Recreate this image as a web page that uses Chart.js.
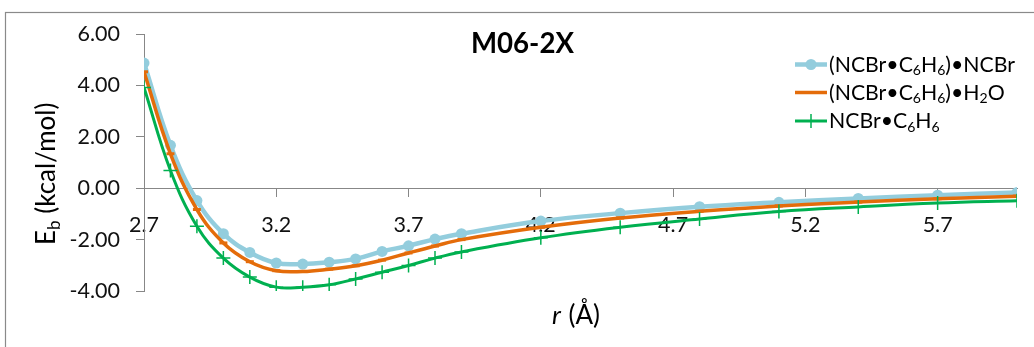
<!DOCTYPE html>
<html><head><meta charset="utf-8">
<script src="https://cdn.jsdelivr.net/npm/chart.js@4/dist/chart.umd.min.js"></script>
<style>html,body{margin:0;padding:0;background:#fff;overflow:hidden}canvas{display:block}</style>
</head><body>
<canvas id="c" width="1034" height="347"></canvas>
<script>
// ---- data ----
const rValues = [2.7, 2.8, 2.9, 3.0, 3.1, 3.2, 3.3, 3.4, 3.5, 3.6, 3.7, 3.8, 3.9, 4.2, 4.5, 4.8, 5.1, 5.4, 5.7, 6.0];
const ebDimerNCBr = [4.87, 1.67, -0.48, -1.77, -2.50, -2.91, -2.95, -2.88, -2.75, -2.46, -2.24, -1.98, -1.77, -1.28, -0.97, -0.72, -0.55, -0.40, -0.27, -0.17];
const ebDimerH2O  = [4.53, 1.34, -0.83, -2.13, -2.86, -3.21, -3.24, -3.15, -3.02, -2.80, -2.52, -2.25, -2.00, -1.52, -1.16, -0.90, -0.69, -0.54, -0.41, -0.31];
const ebMonomer   = [3.92, 0.69, -1.48, -2.72, -3.46, -3.85, -3.85, -3.76, -3.53, -3.27, -3.01, -2.72, -2.48, -1.93, -1.52, -1.20, -0.91, -0.73, -0.58, -0.49];
const xTickValues = [2.7, 3.2, 3.7, 4.2, 4.7, 5.2, 5.7];
const yTickValues = [-4, -2, 0, 2, 4, 6];
const seriesLabels = ['(NCBr•C₆H₆)•NCBr', '(NCBr•C₆H₆)•H₂O', 'NCBr•C₆H₆'];
const chartTitle = 'M06-2X';
const xTitleItalic = 'r';
const xTitleRest = ' (Å)';
const yTitleMain = 'E';
const yTitleSub = 'b';
const yTitleRest = ' (kcal/mol)';

// ---- styling ----
const FONT = 'Lato, "Open Sans", "DejaVu Sans", sans-serif';
const AXIS = '#878787';
const COLORS = ['#93CDDD', '#E46C0A', '#00B050'];

const pts = ys => rValues.map((x, i) => ({x: x, y: ys[i]}));

const SUBS = '₀₁₂₃₄₅₆₇₈₉';
function segs(text) {
  const out = [];
  for (const ch of text) {
    const k = SUBS.indexOf(ch);
    const sub = k >= 0;
    const c = sub ? String(k) : ch;
    if (out.length && out[out.length - 1].sub === sub) out[out.length - 1].t += c;
    else out.push({t: c, sub: sub});
  }
  return out;
}
function richWidth(ctx, text, size, weight) {
  let w = 0;
  for (const s of segs(text)) {
    ctx.font = (weight || '') + ' ' + (s.sub ? size * 0.66 : size) + 'px ' + FONT;
    w += ctx.measureText(s.t).width;
  }
  return w;
}
function drawRich(ctx, text, x, y, size) {
  for (const s of segs(text)) {
    const fs = s.sub ? size * 0.66 : size;
    ctx.font = fs + 'px ' + FONT;
    ctx.fillText(s.t, x, y + (s.sub ? size * 0.16 : 0));
    x += ctx.measureText(s.t).width;
  }
}
function drawMarker(ctx, ds, x, y) {
  ctx.save();
  ctx.strokeStyle = ds.borderColor;
  ctx.fillStyle = ds.backgroundColor;
  ctx.lineWidth = ds.pointBorderWidth || 1;
  const r = ds.pointRadius;
  ctx.beginPath();
  if (ds.pointStyle === 'circle') { ctx.arc(x, y, r, 0, Math.PI * 2); ctx.fill(); }
  else if (ds.pointStyle === 'cross') { ctx.moveTo(x - r, y); ctx.lineTo(x + r, y); ctx.moveTo(x, y - r); ctx.lineTo(x, y + r); ctx.stroke(); }
  else if (ds.pointStyle === 'line') { ctx.moveTo(x - r, y); ctx.lineTo(x + r, y); ctx.stroke(); }
  ctx.restore();
}

const decor = {
  id: 'decor',
  afterDraw(chart) {
    const ctx = chart.ctx;
    ctx.save();
    // outer frame
    ctx.strokeStyle = '#8a8a8a';
    ctx.lineWidth = 1.2;
    ctx.strokeRect(5.5, 12.5, 1200, 500);
    ctx.fillStyle = '#000';
    ctx.textBaseline = 'alphabetic';
    // title
    let ts = 27;
    ctx.font = 'bold ' + ts + 'px ' + FONT;
    ts = ts * 103 / ctx.measureText(chartTitle).width;
    ctx.font = 'bold ' + ts + 'px ' + FONT;
    ctx.textAlign = 'left';
    ctx.fillText(chartTitle, 471, 53);
    // x title
    const xs = 26;
    ctx.font = 'italic ' + xs + 'px ' + FONT;
    const wr = ctx.measureText(xTitleItalic).width;
    ctx.fillText(xTitleItalic, 552, 324);
    ctx.font = xs + 'px ' + FONT;
    ctx.fillText(xTitleRest, 552 + wr + 1, 324);
    // y title (rotated)
    const ys = 26;
    ctx.save();
    ctx.translate(55, 245);
    ctx.rotate(-Math.PI / 2);
    ctx.font = ys + 'px ' + FONT;
    ctx.fillText(yTitleMain, 0, 0);
    let xx = ctx.measureText(yTitleMain).width;
    ctx.font = (ys * 0.66) + 'px ' + FONT;
    ctx.fillText(yTitleSub, xx, ys * 0.18);
    xx += ctx.measureText(yTitleSub).width;
    ctx.font = ys + 'px ' + FONT;
    ctx.fillText(yTitleRest, xx, 0);
    ctx.restore();
    // legend
    let ls = 20;
    ls = ls * 186 / richWidth(ctx, seriesLabels[0], ls);
    const rows = [64.5, 92.5, 121];
    chart.data.datasets.forEach((ds, i) => {
      const y = rows[i];
      ctx.strokeStyle = ds.borderColor;
      ctx.lineWidth = ds.borderWidth;
      ctx.beginPath();
      ctx.moveTo(795, y);
      ctx.lineTo(827, y);
      ctx.stroke();
      drawMarker(ctx, ds, 811, y);
      ctx.fillStyle = '#000';
      drawRich(ctx, ds.label, 829, y + 7.2, ls);
    });
    ctx.restore();
  }
};

new Chart(document.getElementById('c').getContext('2d'), {
  type: 'line',
  data: {
    datasets: [
      {label: seriesLabels[0], data: pts(ebDimerNCBr), borderColor: COLORS[0], backgroundColor: COLORS[0],
       borderWidth: 4.5, pointStyle: 'circle', pointRadius: 5.5, pointBorderWidth: 0, tension: 0.4, order: 3},
      {label: seriesLabels[1], data: pts(ebDimerH2O), borderColor: COLORS[1], backgroundColor: COLORS[1],
       borderWidth: 3.5, pointStyle: 'line', pointRadius: 4, pointBorderWidth: 3, tension: 0.4, order: 2},
      {label: seriesLabels[2], data: pts(ebMonomer), borderColor: COLORS[2], backgroundColor: COLORS[2],
       borderWidth: 3, pointStyle: 'cross', pointRadius: 7, pointBorderWidth: 1.5, tension: 0.4, order: 1}
    ]
  },
  options: {
    responsive: false,
    animation: false,
    devicePixelRatio: 1,
    layout: {padding: {left: 0, top: 34, right: 17, bottom: 56}},
    plugins: {legend: {display: false}, tooltip: {enabled: false}, title: {display: false}},
    scales: {
      x: {
        type: 'linear', min: 2.7, max: 6.0, position: {y: 0},
        afterBuildTicks: s => { s.ticks = xTickValues.map(v => ({value: v})); },
        grid: {drawOnChartArea: false, drawTicks: true, tickLength: 8, color: AXIS},
        border: {display: true, color: AXIS, width: 1},
        ticks: {font: {family: FONT, size: 21.5}, color: '#111', padding: 16, maxRotation: 0, autoSkip: false,
                callback: v => Number(v).toFixed(1)}
      },
      y: {
        min: -4, max: 6,
        afterBuildTicks: s => { s.ticks = yTickValues.map(v => ({value: v})); },
        afterFit: s => { s.width = 144; },
        grid: {drawOnChartArea: false, drawTicks: true, tickLength: 8, color: AXIS},
        border: {display: true, color: AXIS, width: 1},
        ticks: {font: {family: FONT, size: 21.5}, color: '#111', padding: 16,
                callback: v => Number(v).toFixed(2)}
      }
    }
  },
  plugins: [decor]
});
</script>
</body></html>
